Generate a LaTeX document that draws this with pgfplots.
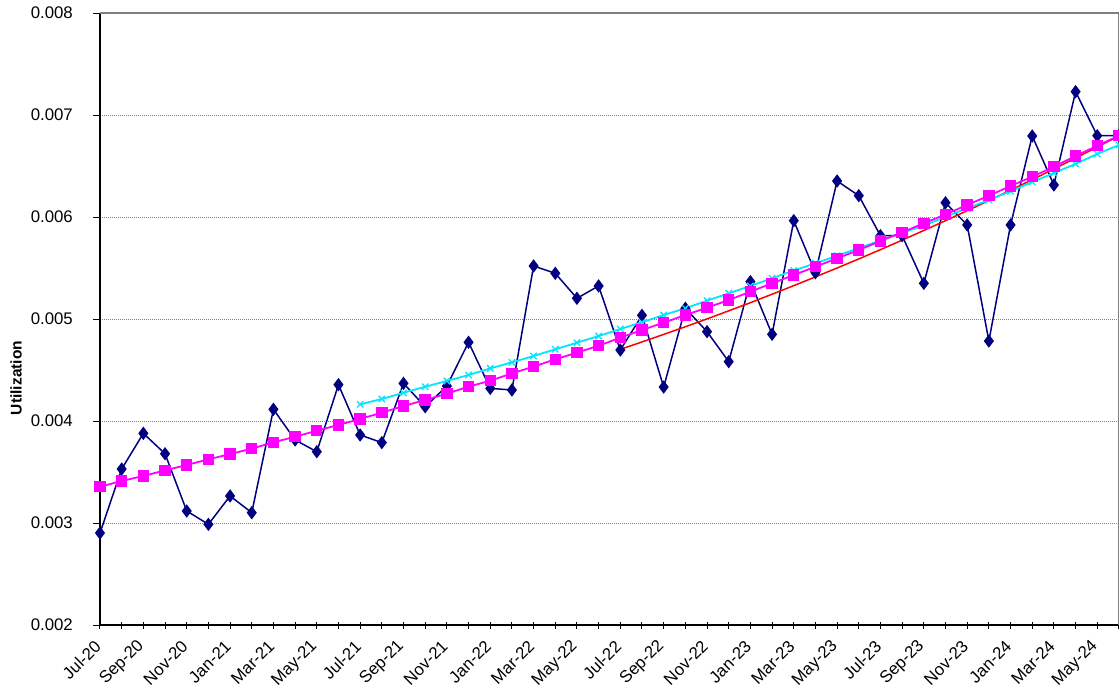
\documentclass[border=0pt]{standalone}
\usepackage{pgfplots}
\usepackage{pgfplotstable}
\pgfplotsset{compat=1.18}
\usepackage{fontspec}
\setmainfont{Liberation Sans}
\definecolor{navyb}{RGB}{0,0,128}
\definecolor{magb}{RGB}{255,0,255}
\definecolor{cyanb}{RGB}{0,230,255}

\pgfplotstableread{
x y
0 0.002902
1 0.003529
2 0.003879
3 0.003679
4 0.003118
5 0.002987
6 0.003265
7 0.003101
8 0.004115
9 0.003814
10 0.003699
11 0.004356
12 0.003863
13 0.003788
14 0.004369
15 0.004140
16 0.004343
17 0.004772
18 0.004320
19 0.004304
20 0.005520
21 0.005448
22 0.005203
23 0.005324
24 0.004696
25 0.005036
26 0.004333
27 0.005105
28 0.004876
29 0.004582
30 0.005366
31 0.004850
32 0.005964
33 0.005454
34 0.006353
35 0.006209
36 0.005817
37 0.005817
38 0.005350
39 0.006140
40 0.005922
41 0.004784
42 0.005922
43 0.006794
44 0.006314
45 0.007229
46 0.006797
47 0.006797
}\actual

\pgfplotstableread{
x y
0 0.003356
1 0.003412
2 0.003461
3 0.003516
4 0.003569
5 0.003624
6 0.003676
7 0.003729
8 0.003791
9 0.003846
10 0.003905
11 0.003961
12 0.004020
13 0.004082
14 0.004147
15 0.004206
16 0.004268
17 0.004337
18 0.004395
19 0.004467
20 0.004533
21 0.004605
22 0.004670
23 0.004738
24 0.004817
25 0.004892
26 0.004964
27 0.005039
28 0.005111
29 0.005186
30 0.005268
31 0.005350
32 0.005431
33 0.005513
34 0.005595
35 0.005676
36 0.005765
37 0.005850
38 0.005938
39 0.006026
40 0.006118
41 0.006209
42 0.006304
43 0.006395
44 0.006493
45 0.006598
46 0.006699
47 0.006797
}\trendm

\pgfplotstableread{
x y
12 0.004163
13 0.004216
14 0.004277
15 0.004336
16 0.004392
17 0.004451
18 0.004516
19 0.004575
20 0.004637
21 0.004703
22 0.004768
23 0.004833
24 0.004902
25 0.004968
26 0.005039
27 0.005105
28 0.005180
29 0.005252
30 0.005324
31 0.005399
32 0.005476
33 0.005546
34 0.005620
35 0.005695
36 0.005770
37 0.005845
38 0.005915
39 0.006003
40 0.006085
41 0.006167
42 0.006252
43 0.006343
44 0.006431
45 0.006520
46 0.006618
47 0.006706
}\trendc

\pgfplotstableread{
x y
24 0.004703
25 0.004775
26 0.004849
27 0.004924
28 0.005001
29 0.005080
30 0.005160
31 0.005243
32 0.005327
33 0.005413
34 0.005500
35 0.005589
36 0.005680
37 0.005773
38 0.005868
39 0.005964
40 0.006062
41 0.006161
42 0.006263
43 0.006366
44 0.006471
45 0.006578
46 0.006686
47 0.006796
}\trendr

\begin{document}
\begin{tikzpicture}
\begin{axis}[
  scale only axis, width=1019pt, height=612pt,
  xmin=0, xmax=47, ymin=0.002, ymax=0.008,
  axis x line*=bottom, axis y line*=left,
  axis line style={black, line width=1.2pt},
  clip=false,
  xtick={0,...,47},
  xticklabels={Jul-20,{},Sep-20,{},Nov-20,{},Jan-21,{},Mar-21,{},May-21,{},Jul-21,{},Sep-21,{},Nov-21,{},Jan-22,{},Mar-22,{},May-22,{},Jul-22,{},Sep-22,{},Nov-22,{},Jan-23,{},Mar-23,{},May-23,{},Jul-23,{},Sep-23,{},Nov-23,{},Jan-24,{},Mar-24,{},May-24,{},{}},
  ytick={0.002,0.003,0.004,0.005,0.006,0.007,0.008},
  scaled y ticks=false,
  major tick length=7pt,
  xtick align=center, ytick align=outside,
  tick style={black, line width=1pt},
  yticklabel style={font=\fontsize{16.8}{20}\selectfont, anchor=east, inner sep=0pt, xshift=-20pt, /pgf/number format/.cd, fixed, fixed zerofill, precision=3, assume math mode=true},
  xticklabel style={font=\fontsize{16.8}{20}\selectfont, xshift=-2pt, yshift=-15pt, rotate=45, anchor=east, inner sep=0pt},
  ymajorgrids,
  major grid style={gray, line width=1pt, dash pattern=on 1pt off 1pt},
  ylabel={Utilization},
  ylabel style={at={(axis description cs:-0.0824,0.4036)}, anchor=center, font=\bfseries\fontsize{15.5}{18}\selectfont},
]
\draw[gray, line width=1.5pt] (rel axis cs:0,1) -- (rel axis cs:1,1) -- (rel axis cs:1,0);
\addplot[navyb, line width=1.5pt, mark=diamond*, mark size=5.5pt, mark options={solid}] table[x=x,y=y]{\actual};
\addplot[red, line width=1.5pt, no marks] table[x=x,y=y]{\trendr};
\addplot[cyanb, line width=1.8pt, mark=x, mark size=4.5pt, mark options={line width=1.3pt}] table[x=x,y=y]{\trendc};
\addplot[magb, line width=1.8pt, mark=square*, mark size=4.8pt] table[x=x,y=y]{\trendm};
\end{axis}
\pgfresetboundingbox
\path (current axis.south west) ++(-100pt,-66pt) rectangle ++(1119pt,691pt);
\end{tikzpicture}
\end{document}
